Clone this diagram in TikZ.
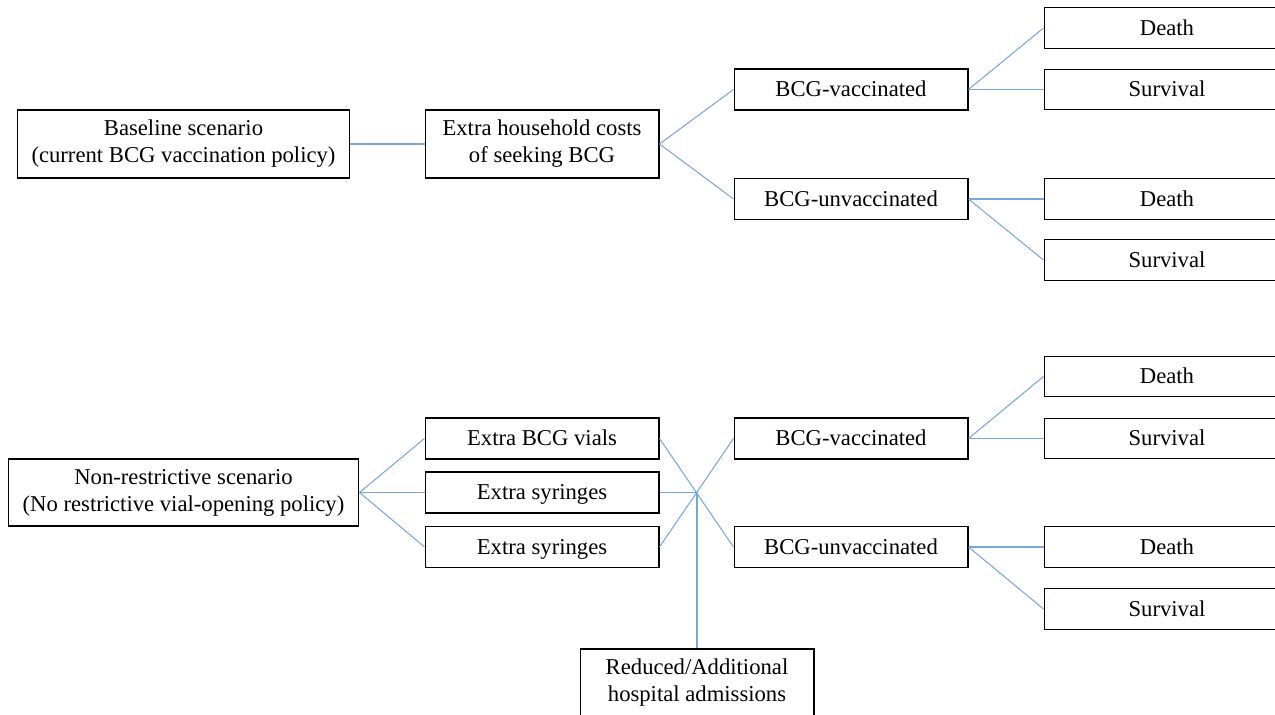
\documentclass[tikz,border=0pt]{standalone}
\usepackage{fontspec}
\setmainfont{Liberation Serif}
\usepackage{tikz}
\usetikzlibrary{positioning}

\definecolor{linkblue}{RGB}{118,168,222}

\begin{document}
\begin{tikzpicture}[
  x=0.02cm,
  y=-0.02cm,
  font=\fontsize{12.9pt}{15.4pt}\selectfont,
  box/.style={draw=black, line width=0.6pt, inner sep=0pt, align=center},
  wide/.style={box, minimum width=4.68cm, minimum height=1.36cm},
  small/.style={box, minimum width=4.68cm, minimum height=0.82cm,
    text height=3.2mm, text depth=0.2mm},
  leaf/.style={box, minimum width=4.92cm, minimum height=0.81cm,
    text height=3.2mm, text depth=0.2mm},
  link/.style={linkblue, line width=0.6pt}
]

  % Page frame (right and bottom boxes run off the edge).
  \useasboundingbox (0,0) rectangle (1275,715);

  % Baseline branch.
  \node[box, minimum width=6.66cm, minimum height=1.36cm] (base) at (183.5,144)
    {Baseline scenario\\(current BCG vaccination policy)};
  \node[wide] (house) at (542,144) {Extra household costs\\of seeking BCG};
  \node[small] (vacA) at (851,89.5) {BCG-vaccinated};
  \node[small] (unvacA) at (851,199) {BCG-unvaccinated};
  \node[leaf] (deathA) at (1167,28) {Death};
  \node[leaf] (survA) at (1167,89.5) {Survival};
  \node[leaf] (deathB) at (1167,199) {Death};
  \node[leaf] (survB) at (1167,260) {Survival};

  \draw[link] (base.east) -- (house.west);
  \draw[link] (house.east) -- (vacA.west);
  \draw[link] (house.east) -- (unvacA.west);
  \draw[link] (vacA.east) -- (deathA.west);
  \draw[link] (vacA.east) -- (survA.west);
  \draw[link] (unvacA.east) -- (deathB.west);
  \draw[link] (unvacA.east) -- (survB.west);

  % Non-restrictive branch.
  \node[box, minimum width=7.02cm, minimum height=1.34cm] (nonres) at (183.5,492.5)
    {Non-restrictive scenario\\(No restrictive vial-opening policy)};
  \node[small] (vials) at (542,438.5) {Extra BCG vials};
  \node[small] (syrA) at (542,492.5) {Extra syringes};
  \node[small] (syrB) at (542,547) {Extra syringes};
  \node[small] (vacB) at (851,438.5) {BCG-vaccinated};
  \node[small] (unvacB) at (851,547) {BCG-unvaccinated};
  \node[leaf] (deathC) at (1167,376.5) {Death};
  \node[leaf] (survC) at (1167,438.5) {Survival};
  \node[leaf] (deathD) at (1167,547) {Death};
  \node[leaf] (survD) at (1167,609) {Survival};
  \node[wide] (admit) at (697,683)
    {Reduced/Additional\\hospital admissions};
  \coordinate (hub) at (697,492.5);

  \draw[link] (nonres.east) -- (vials.west);
  \draw[link] (nonres.east) -- (syrA.west);
  \draw[link] (nonres.east) -- (syrB.west);
  \draw[link] (vials.east) -- (unvacB.west);
  \draw[link] (syrB.east) -- (vacB.west);
  \draw[link] (syrA.east) -- (hub);
  \draw[link] (hub) -- (admit.north);
  \draw[link] (vacB.east) -- (deathC.west);
  \draw[link] (vacB.east) -- (survC.west);
  \draw[link] (unvacB.east) -- (deathD.west);
  \draw[link] (unvacB.east) -- (survD.west);

\end{tikzpicture}
\end{document}
